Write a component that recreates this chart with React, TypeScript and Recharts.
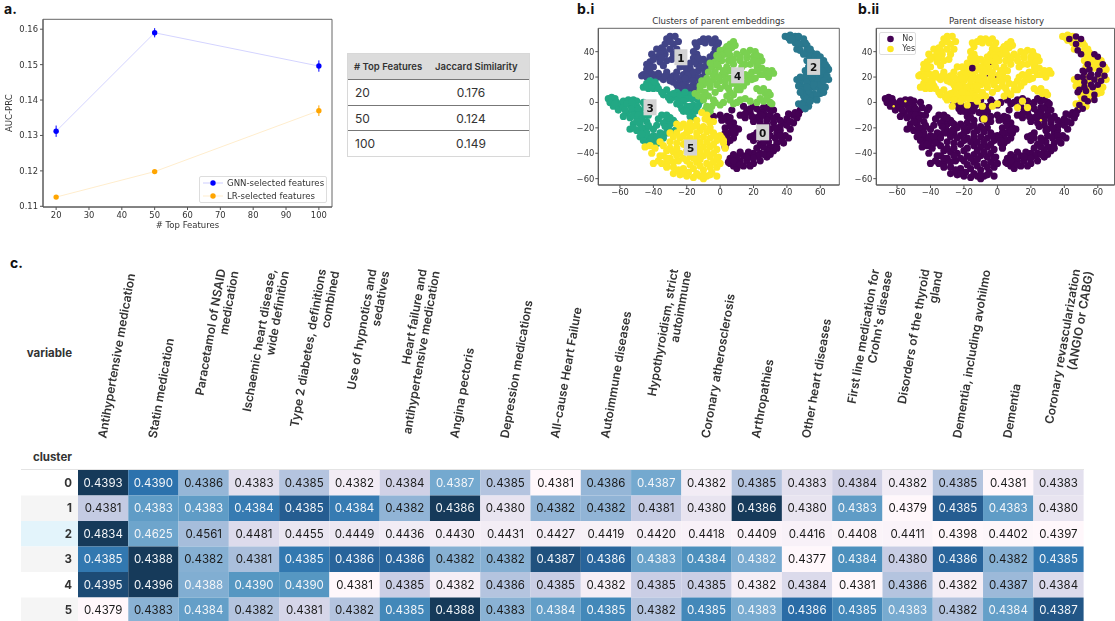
import React from "react";
import {
  LineChart, Line, ErrorBar, XAxis, YAxis, ScatterChart, Scatter, ReferenceArea, Legend,
} from "recharts";

// ---------- panel a ----------
const topFeatures = [20, 50, 100];
const gnnScores = [0.1312, 0.159, 0.1496];
const gnnErrors = [0.0016, 0.0013, 0.0016];
const lrScores = [0.1126, 0.1198, 0.137];
const lrErrors = [0.0003, 0.0003, 0.0015];
const jaccardRows = [["20", "0.176"], ["50", "0.124"], ["100", "0.149"]];

// ---------- panel b ----------
const cluster0 = [[-4,-11],[0,-10],[4,-11],[8,-16],[11,-21],[8,-28],[4,-32],[3,-35],[6,-24],[3,-20],[7,-6],[1,-14],[5,-15],[9,-24],[6,-30],[12,-10],[14,-3],[20,-3],[30,-2],[32,-6],[28,-11],[32,-16],[38,-16],[44,-10],[48,-6],[42,-21],[34,-24],[34,-32],[30,-35],[24,-40],[18,-43],[10,-43],[6,-48],[14,-50],[20,-48],[28,-43],[38,-32],[18,-8],[24,-8],[26,-4],[16,-6],[22,-12],[20,-15],[24,-16],[28,-18],[22,-24],[26,-28],[30,-26],[20,-30],[24,-33],[36,-22],[40,-18],[44,-16],[46,-12],[39,-26],[41,-28],[12,-46],[16,-46],[24,-46],[8,-50],[10,-52],[6,-44],[14,-42],[32,-38],[28,-38],[20,-40],[30,-10],[34,-11],[36,-19],[30,-21],[26,-35],[15,-12],[28,-30],[18,-27],[37,-28],[10,-48],[33,-28],[2,-13],[6,-12],[6,-19],[9,-20],[8,-22],[4,-28],[3,-24],[15,-9],[18,-5],[22,-5],[26,-8],[30,-6],[28,-4],[24,-12],[28,-14],[25,-19],[29,-22],[33,-20],[36,-14],[40,-13],[42,-15],[41,-9],[45,-8],[47,-9],[32,-13],[36,-26],[33,-35],[29,-31],[26,-31],[22,-28],[20,-26],[22,-36],[17,-39],[12,-39],[8,-41],[5,-47],[8,-46],[12,-49],[18,-50],[23,-42],[26,-41],[30,-41],[20,-44],[16,-43],[34,-36],[37,-30],[25,-10],[19,-11]];
const cluster1 = [[-32,50],[-30,52],[-27,52],[-33,46],[-28,46],[-25,48],[-30,42],[-26,42],[-33,38],[-38,42],[-41,38],[-38,36],[-42,32],[-36,32],[-32,33],[-44,26],[-42,24],[-46,22],[-40,22],[-47,21],[-36,20],[-14,44],[-12,48],[-7,50],[-3,50],[-1,47],[-3,42],[-6,36],[-10,34],[-14,38],[-16,40],[-16,35],[-14,30],[-8,31],[-13,25],[-10,28],[-14,20],[-12,16],[-16,14],[-20,12],[-18,8],[-22,10],[-26,14],[-24,18],[-28,16],[-22,22],[-26,24],[-20,25],[-17,20],[-18,27],[-24,28],[-30,20],[-32,24],[-34,18],[-10,50],[-5,47],[-12,33],[-28,21],[-20,17],[-15,9],[-30,48],[-35,43],[-34,41],[-28,38],[-36,38],[-29,34],[-40,34],[-35,35],[-40,28],[-44,30],[-42,28],[-43,22],[-39,19],[-44,20],[-33,21],[-30,17],[-26,20],[-22,14],[-18,12],[-19,22],[-21,19],[-16,17],[-23,13],[-13,13],[-11,20],[-16,24],[-12,28],[-9,24],[-7,27],[-7,32],[-5,34],[-18,31],[-15,32],[-21,28],[-25,11],[-20,8],[-13,35],[-15,47],[-9,47],[-2,44],[-4,38],[-34,29],[-37,23]];
const cluster2Yes = [[39,52],[42,53],[45,52],[42,49],[46,49],[49,46],[52,45],[46,42],[52,41],[55,39],[54,36],[56,33],[62,33],[65,26],[60,31],[65,18],[62,26],[59,28],[48,15],[53,20],[46,18],[50,12],[60,10],[63,12],[54,12],[56,7],[60,7],[51,7],[56,3],[47,-1],[50,-3],[53,-3],[58,27],[57,30],[52,33],[41,51],[44,50],[51,47],[53,38],[57,36],[64,28],[61,19],[49,18],[47,13],[55,16],[54,5],[50,0],[53,28],[60,18],[62,8],[50,5],[63,22],[54,42],[45,47],[60,33]];
const cluster2No = [[43,50],[47,52],[50,50],[47,46],[48,41],[50,38],[58,38],[60,36],[63,30],[54,30],[52,24],[51,20],[56,22],[60,22],[64,21],[58,18],[52,16],[57,12],[53,9],[60,14],[58,6],[52,3],[49,-2],[54,1],[51,-5],[48,20],[62,17],[55,26],[61,25],[56,14],[49,10],[58,2],[48,8],[52,12],[51,25],[55,20]];
const cluster3Upper = [[-46,12],[-44,15],[-42,17],[-40,15],[-38,13],[-43,11],[-40,11],[-37,11],[-32,10],[-34,6],[-30,6],[-28,4],[-25,3],[-30,2],[-22,6],[-18,6],[-26,8],[-14,3],[-20,3],[-12,1],[-35,8],[-31,4],[-28,7],[-24,6],[-21,8],[-17,3],[-44,13],[-41,13],[-39,16],[-22,1]];
const cluster3Lower = [[-67,3],[-65,4],[-63,3],[-66,0],[-62,0],[-64,-3],[-60,-2],[-61,-6],[-58,-4],[-58,1],[-55,2],[-52,2],[-50,1],[-54,-2],[-50,-3],[-46,0],[-56,-8],[-52,-7],[-48,-7],[-58,-11],[-54,-12],[-50,-12],[-46,-10],[-43,-10],[-52,-17],[-48,-17],[-44,-15],[-54,-21],[-50,-22],[-46,-22],[-48,-27],[-44,-27],[-40,-26],[-46,-30],[-42,-30],[-38,-30],[-44,-33],[-40,-31],[-36,-29],[-36,-24],[-40,-21],[-35,-10],[-37,-13],[-32,-14],[-30,-17],[-34,-16],[-28,-14],[-32,-10],[-31,-21],[-34,-25],[-32,-24],[-24,-2],[-20,-3],[-23,-5],[-16,-5],[-16,-2],[-22,-7],[-18,-7],[-15,-7],[-18,-11],[-16,-12],[-27,-22],[-42,-6],[-44,-20],[-38,-18],[-63,-1],[-56,-1],[-53,0],[-57,-6],[-53,-5],[-49,-5],[-52,-10],[-49,-10],[-47,-13],[-50,-15],[-47,-20],[-52,-20],[-43,-18],[-44,-24],[-47,-25],[-41,-28],[-38,-27],[-34,-28],[-42,-33],[-37,-32],[-31,-19],[-30,-12],[-33,-19],[-27,-16],[-41,-4],[-45,-4],[-26,-1],[-18,-3],[-14,-5],[-20,-7],[-13,-2]];
const cluster4Upper = [[6,46],[8,48],[7,43],[3,42],[0,41],[-2,37],[3,38],[6,37],[10,38],[14,40],[18,41],[21,40],[24,36],[25,33],[20,36],[16,35],[12,33],[5,33],[1,33],[-3,32],[-5,28],[-1,28],[4,28],[8,30],[13,28],[18,30],[22,29],[25,27],[28,25],[31,25],[32,23],[29,20],[24,22],[19,24],[15,22],[3,22],[-3,24],[-7,24],[-8,19],[-4,18],[0,17],[-2,14],[-10,14],[-12,10],[-15,7],[-9,8],[-6,12],[-3,8],[3,13],[7,15],[12,17],[17,19],[14,13],[10,10],[6,8],[4,5],[22,11],[24,9],[27,7],[26,11],[29,8],[30,6],[1,22],[21,19],[4,44],[9,45],[5,40],[1,37],[-1,35],[8,34],[12,36],[16,38],[22,37],[20,33],[23,32],[15,30],[6,25],[2,25],[-2,30],[-6,31],[-4,21],[-8,16],[-11,17],[-12,13],[-6,15],[-1,20],[3,17],[6,19],[10,14],[13,20],[18,22],[22,25],[26,22],[29,23],[16,16],[12,10],[8,6],[0,11],[-7,5],[-10,5],[-13,5],[5,11],[19,18]];
const cluster4Lower = [[-8,-3],[-9,-6],[-6,-7],[-5,-3],[-3,0],[0,-2],[-10,2],[2,0],[6,2],[12,2],[18,1],[22,0],[26,1],[30,0],[31,-1],[-4,2],[8,-1],[15,3],[24,3],[10,0],[28,3]];
const cluster5 = [[-11,-8],[-8,-10],[-4,-15],[-14,-14],[-22,-17],[-26,-17],[-30,-24],[-36,-31],[-45,-35],[-41,-40],[-40,-48],[-32,-48],[-28,-56],[-20,-58],[-10,-60],[-2,-51],[-1,-43],[2,-32],[-4,-24],[-10,-19],[-18,-22],[-26,-24],[-22,-26],[-18,-28],[-14,-27],[-10,-27],[-6,-28],[-2,-30],[-30,-31],[-26,-32],[-22,-33],[-14,-34],[-10,-35],[-6,-35],[-2,-37],[-32,-38],[-28,-39],[-24,-40],[-14,-41],[-10,-42],[-6,-43],[-36,-42],[-30,-44],[-25,-46],[-20,-46],[-14,-47],[-8,-48],[-4,-47],[-28,-51],[-22,-52],[-16,-52],[-10,-53],[-5,-55],[-24,-57],[-16,-59],[-14,-56],[-8,-58],[-35,-48],[0,-26],[3,-36],[-42,-34],[-39,-36],[-12,-22],[-6,-20],[-14,-18],[-18,-16],[-20,-38],[-18,-42],[-2,-58],[-9,-13],[-7,-14],[-6,-16],[-16,-19],[-20,-20],[-24,-20],[-8,-23],[-14,-24],[-20,-24],[-24,-28],[-28,-27],[-16,-31],[-12,-31],[-8,-31],[-4,-33],[-20,-30],[-34,-34],[-30,-36],[-26,-36],[-18,-36],[-12,-38],[-8,-39],[-4,-40],[-34,-42],[-26,-42],[-22,-44],[-16,-44],[-12,-45],[-2,-44],[-37,-46],[-32,-44],[-28,-47],[-18,-49],[-12,-50],[-6,-51],[-32,-51],[-25,-53],[-19,-55],[-12,-58],[-6,-57],[-10,-57],[-22,-56],[0,-48],[1,-28],[2,-30],[-3,-26]];
const mixedYes = [[-26,2],[-27,-3],[-18,-2],[-9,-3],[-3,-3],[0,-1],[12,-4],[18,-4],[15,1],[-8,-13]];
const darkDots = [[-15,27]];
const yesSpecks = [[-55,1],[-62,-3],[26,-14]];
const noSpecks = [[-6,21],[-1,20],[-4,30]];
const clusterLabels = [
  { x: 25.5, y: -23.5, name: "0" }, { x: -23.5, y: 35.6, name: "1" }, { x: 56, y: 28, name: "2" },
  { x: -42, y: -3.8, name: "3" }, { x: 10.5, y: 21.4, name: "4" }, { x: -17.7, y: -35.5, name: "5" },
];
const scatterTicksX = [-60, -40, -20, 0, 20, 40, 60];
const scatterTicksY = [-60, -40, -20, 0, 20, 40];
const clusterColors = ["#440154", "#414487", "#2a788e", "#22a884", "#7ad151", "#fde725"];

// ---------- panel c ----------
const headerLines = [
  ["Antihypertensive medication"], ["Statin medication"], ["Paracetamol of NSAID", "medication"],
  ["Ischaemic heart disease,", "wide definition"], ["Type 2 diabetes, definitions", "combined"],
  ["Use of hypnotics and", "sedatives"], ["Heart failure and", "antihypertensive medication"],
  ["Angina pectoris"], ["Depression medications"], ["All-cause Heart Failure"], ["Autoimmune diseases"],
  ["Hypothyroidism, strict", "autoimmune"], ["Coronary atherosclerosis"], ["Arthropathies"], ["Other heart diseases"],
  ["First line medication for", "Crohn's disease"], ["Disorders of the thyroid", "gland"],
  ["Dementia, including avohilmo"], ["Dementia"], ["Coronary revascularization", "(ANGIO or CABG)"],
];
const row0 = [.4393,.4390,.4386,.4383,.4385,.4382,.4384,.4387,.4385,.4381,.4386,.4387,.4382,.4385,.4383,.4384,.4382,.4385,.4381,.4383];
const row1 = [.4381,.4383,.4383,.4384,.4385,.4384,.4382,.4386,.4380,.4382,.4382,.4381,.4380,.4386,.4380,.4383,.4379,.4385,.4383,.4380];
const row2 = [.4834,.4625,.4561,.4481,.4455,.4449,.4436,.4430,.4431,.4427,.4419,.4420,.4418,.4409,.4416,.4408,.4411,.4398,.4402,.4397];
const row3 = [.4385,.4388,.4382,.4381,.4385,.4386,.4386,.4382,.4382,.4387,.4386,.4383,.4384,.43824,.4377,.4384,.4380,.4386,.4382,.4385];
const row4 = [.4395,.4396,.4388,.4390,.4390,.4381,.4385,.4382,.4386,.4385,.4382,.4385,.4385,.4382,.4384,.4381,.4386,.4382,.4387,.4384];
const row5 = [.4379,.4383,.4384,.4382,.4381,.4382,.4385,.4388,.4383,.4384,.4385,.4382,.4385,.43834,.4386,.4385,.43834,.4382,.4384,.4387];
const heatRows = [row0, row1, row2, row3, row4, row5];
const rowBackgrounds = ["#ffffff", "#f5f5f5", "#e3f4fb", "#f5f5f5", "#ffffff", "#f5f5f5"];
const gradient = ["#fff7fb", "#ece7f2", "#d0d1e6", "#a6bddb", "#74a9cf", "#4f93bf", "#2c72ad", "#24598c", "#163a5a"];

const MPL = "'DejaVu Sans'";
const INTER = "Inter";
const toPts = (a: number[][]) => a.map(([x, y]) => ({ x, y }));
const minus = (v: number) => String(v).replace("-", "\u2212");
const hexToRgb = (h: string) => [1, 3, 5].map((i) => parseInt(h.slice(i, i + 2), 16));
const colorAt = (t: number) => {
  const p = Math.max(0, Math.min(1, t)) * (gradient.length - 1);
  const i = Math.min(gradient.length - 2, Math.floor(p));
  const a = hexToRgb(gradient[i]), b = hexToRgb(gradient[i + 1]);
  const f = p - i;
  return `rgb(${a.map((c, k) => Math.round(c + (b[k] - c) * f)).join(",")})`;
};

const CELL_W = 50.28;
const CELL_H = 25.5;
const heatData = heatRows.flatMap((row, r) => {
  const lo = Math.min(...row), hi = Math.max(...row);
  return row.map((v, c) => ({ col: c + 0.5, row: r + 0.5, value: v, t: (v - lo) / (hi - lo) }));
});

const lineData = topFeatures.map((f, i) => ({
  f, gnn: gnnScores[i], gnnErr: gnnErrors[i], lr: lrScores[i], lrErr: lrErrors[i],
}));

const dot = (r: number) => (p: any) => <circle cx={p.cx} cy={p.cy} r={r} fill={p.fill} />;
const blob = dot(3.6);

const axisTick = { fontFamily: MPL, fontSize: 8.4, fill: "#333" };
const frameStroke = "#666";

const LineLegend = () => (
  <div style={{ boxSizing: "border-box", width: 128, height: 27, border: "1px solid #ddd", borderRadius: 2, background: "rgba(255,255,255,.8)", fontFamily: MPL, fontSize: 8.6, color: "#333", position: "relative" }}>
    {[["GNN-selected features", "#0000ff"], ["LR-selected features", "#ffa500"]].map(([t, c], i) => (
      <div key={t} style={{ position: "absolute", left: 0, top: 0.5 + i * 12.4, height: 12, lineHeight: "12px", whiteSpace: "nowrap" }}>
        <svg width={27} height={12} style={{ position: "absolute", left: 3, top: 0 }}>
          <line x1={0} x2={20} y1={6} y2={6} stroke={c} strokeOpacity={0.25} strokeWidth={0.8} />
          <circle cx={10} cy={6} r={2.7} fill={c} />
        </svg>
        <span style={{ position: "absolute", left: 27 }}>{t}</span>
      </div>
    ))}
  </div>
);

const HistoryLegend = () => (
  <div style={{ boxSizing: "border-box", width: 37, height: 23.5, border: "1px solid #ddd", borderRadius: 2, background: "#fff", fontFamily: MPL, fontSize: 8, color: "#333", position: "relative" }}>
    {[["No", clusterColors[0]], ["Yes", clusterColors[5]]].map(([t, c], i) => (
      <div key={t} style={{ position: "absolute", left: 0, top: 1 + i * 10.4, height: 10, lineHeight: "10px" }}>
        <svg width={10} height={10} style={{ position: "absolute", left: 6, top: 0 }}>
          <circle cx={4.5} cy={5} r={3.3} fill={c} />
        </svg>
        <span style={{ position: "absolute", left: 22 }}>{t}</span>
      </div>
    ))}
  </div>
);

const LabelBox = (p: any) => (
  <g>
    <rect x={p.cx - 6.5} y={p.cy - 8} width={13} height={16} fill="#d3d3d3" />
    <text x={p.cx} y={p.cy + 0.5} textAnchor="middle" dominantBaseline="central" fontFamily={MPL} fontWeight={700} fontSize={10.5} fill="#111">{p.payload.name}</text>
  </g>
);

const HeaderTick = (p: any) => {
  const idx = Math.floor(p.payload.value);
  const lines = headerLines[idx];
  const x = p.x;
  const common = { fontFamily: INTER, fontWeight: 600, fontSize: 12, fill: "#333", dominantBaseline: "central" as const };
  if (lines.length === 1) {
    return <text {...common} transform={`translate(${x - 1.4},183) rotate(-80)`} textAnchor="start">{lines[0]}</text>;
  }
  return (
    <g>
      <text {...common} transform={`translate(${x + 17.5},14) rotate(-80)`} textAnchor="end">{lines[0]}</text>
      <text {...common} transform={`translate(${x + 30.5},16) rotate(-80)`} textAnchor="end">{lines[1]}</text>
    </g>
  );
};

const RowTick = (p: any) => {
  const r = Math.floor(p.payload.value);
  return (
    <g>
      <rect x={21} y={p.y - CELL_H / 2} width={57} height={CELL_H} fill={rowBackgrounds[r]} />
      <text x={72} y={p.y} textAnchor="end" dominantBaseline="central" fontFamily={INTER} fontWeight={700} fontSize={11.5} fill="#333">{r}</text>
    </g>
  );
};

const HeatCell = (p: any) => {
  const { value, t } = p.payload;
  return (
    <g>
      <rect x={p.cx - CELL_W / 2} y={p.cy - CELL_H / 2} width={CELL_W} height={CELL_H} fill={colorAt(t)} />
      <text x={p.cx} y={p.cy} textAnchor="middle" dominantBaseline="central" fontFamily={INTER} fontSize={11.5} fill={t > 0.46 ? "#f4f6f9" : "#1a1a1a"}>{value.toFixed(4)}</text>
    </g>
  );
};

const panelLabel = (text: string, left: number, top: number) => (
  <div style={{ position: "absolute", left, top, fontFamily: INTER, fontWeight: 700, fontSize: 14, lineHeight: "16px", color: "#111" }}>{text}</div>
);
const title = (text: string, center: number) => (
  <div style={{ position: "absolute", left: center - 100, width: 200, top: 16, textAlign: "center", fontFamily: MPL, fontSize: 8.6, lineHeight: "10px", color: "#333" }}>{text}</div>
);

const ScatterFrame = (d: number[]) => (
  <ReferenceArea x1={d[0]} x2={d[1]} y1={d[2]} y2={d[3]} fill="none" stroke={frameStroke} strokeWidth={1} ifOverflow="visible" />
);

export default function App() {
  const soft = "blur(0.45px)";
  return (
    <div style={{ position: "absolute", left: 0, top: 0, width: 1115, height: 621, overflow: "hidden", background: "#fff" }}>
      {panelLabel("a.", 4, 1)}
      {panelLabel("b.i", 577, 1)}
      {panelLabel("b.ii", 858, 1)}
      {panelLabel("c.", 10, 255)}

      <div style={{ position: "absolute", left: 0, top: 0, filter: soft }}>
        <LineChart width={345} height={240} data={lineData} margin={{ top: 19.3, right: 13, bottom: 18, left: 0 }}>
          <XAxis dataKey="f" type="number" domain={[16, 104]} ticks={[20, 30, 40, 50, 60, 70, 80, 90, 100]} interval={0}
            tick={axisTick} tickSize={3} tickMargin={2} height={15} stroke="#555"
            label={{ value: "# Top Features", position: "bottom", offset: 0, style: { fontFamily: MPL, fontSize: 8.5, fill: "#333" } }} />
          <YAxis domain={[0.1098, 0.1628]} ticks={[0.11, 0.12, 0.13, 0.14, 0.15, 0.16]} interval={0} tickFormatter={(v: number) => v.toFixed(2)}
            tick={axisTick} tickSize={3} tickMargin={2} width={43} stroke="#555"
            label={{ value: "AUC-PRC", angle: -90, position: "insideLeft", offset: 9, style: { fontFamily: MPL, fontSize: 8.5, fill: "#333", textAnchor: "middle" } }} />
          {ScatterFrame([16, 104, 0.1098, 0.1628])}
          <Line dataKey="gnn" stroke="#0000ff" strokeOpacity={0.22} strokeWidth={0.8} isAnimationActive={false} dot={{ r: 2.7, fill: "#0000ff", stroke: "none" }} legendType="none">
            <ErrorBar dataKey="gnnErr" width={0} stroke="#0000ff" strokeWidth={1} direction="y" isAnimationActive={false} />
          </Line>
          <Line dataKey="lr" stroke="#ffa500" strokeOpacity={0.25} strokeWidth={0.8} isAnimationActive={false} dot={{ r: 2.7, fill: "#ffa500", stroke: "none" }} legendType="none">
            <ErrorBar dataKey="lrErr" width={0} stroke="#ffa500" strokeWidth={1} direction="y" isAnimationActive={false} />
          </Line>
          <Legend layout="horizontal" align="center" verticalAlign="middle" content={<LineLegend />} wrapperStyle={{ left: 199, top: 175.7, width: 128, height: 27 }} />
        </LineChart>
      </div>

      <div style={{ position: "absolute", left: 347, top: 53, width: 182.5, height: 104, boxSizing: "border-box", border: "1px solid #d8d8d8", fontFamily: INTER, color: "#333" }}>
        <div style={{ height: 26, boxSizing: "border-box", background: "#dcdcdc", borderBottom: "1px solid #777", position: "relative", fontWeight: 600, fontSize: 9.5, lineHeight: "25px" }}>
          <span style={{ position: "absolute", left: 6 }}># Top Features</span>
          <span style={{ position: "absolute", left: 87 }}>Jaccard Similarity</span>
        </div>
        {jaccardRows.map(([n, j], i) => (
          <div key={n} style={{ height: 25.7, boxSizing: "border-box", borderBottom: i < 2 ? "1px solid #777" : "none", position: "relative", fontSize: 12, lineHeight: "25px" }}>
            <span style={{ position: "absolute", left: 7 }}>{n}</span>
            <span style={{ position: "absolute", left: 88, width: 70, textAlign: "center" }}>{j}</span>
          </div>
        ))}
      </div>

      {title("Clusters of parent embeddings", 718.5)}
      <div style={{ position: "absolute", left: 570, top: 0, filter: soft }}>
        <ScatterChart width={280} height={200} margin={{ top: 28.3, right: 10.7, bottom: 0, left: 0 }}>
          <XAxis dataKey="x" type="number" domain={[-73, 71.4]} ticks={scatterTicksX} interval={0} tickFormatter={minus} tick={axisTick} tickSize={3} tickMargin={1} height={15} stroke="#555" />
          <YAxis dataKey="y" type="number" domain={[-65, 58.4]} ticks={scatterTicksY} interval={0} tickFormatter={minus} tick={axisTick} tickSize={3} tickMargin={1} width={28.3} stroke="#555" />
          {ScatterFrame([-73, 71.4, -65, 58.4])}
          <Scatter data={toPts(cluster0)} fill={clusterColors[0]} shape={blob} isAnimationActive={false} />
          <Scatter data={toPts(cluster1)} fill={clusterColors[1]} shape={blob} isAnimationActive={false} />
          <Scatter data={toPts([...cluster2Yes, ...cluster2No])} fill={clusterColors[2]} shape={blob} isAnimationActive={false} />
          <Scatter data={toPts([...cluster3Upper, ...cluster3Lower])} fill={clusterColors[3]} shape={blob} isAnimationActive={false} />
          <Scatter data={toPts([...cluster4Upper, ...cluster4Lower])} fill={clusterColors[4]} shape={blob} isAnimationActive={false} />
          <Scatter data={toPts(cluster5)} fill={clusterColors[5]} shape={blob} isAnimationActive={false} />
          <Scatter data={clusterLabels} shape={LabelBox} isAnimationActive={false} />
        </ScatterChart>
      </div>

      {title("Parent disease history", 996.5)}
      <div style={{ position: "absolute", left: 850, top: 0, filter: soft }}>
        <ScatterChart width={265} height={200} margin={{ top: 28.3, right: 0.5, bottom: 0, left: 0 }}>
          <XAxis dataKey="x" type="number" domain={[-72.4, 70]} ticks={scatterTicksX} interval={0} tickFormatter={minus} tick={axisTick} tickSize={3} tickMargin={1} height={15} stroke="#555" />
          <YAxis dataKey="y" type="number" domain={[-65, 58.4]} ticks={scatterTicksY} interval={0} tickFormatter={minus} tick={axisTick} tickSize={3} tickMargin={1} width={26.3} stroke="#555" />
          {ScatterFrame([-72.4, 70, -65, 58.4])}
          <Scatter data={toPts([...cluster0, ...cluster5, ...cluster3Lower, ...cluster4Lower])} fill={clusterColors[0]} shape={blob} isAnimationActive={false} />
          <Scatter data={toPts([...cluster1, ...cluster4Upper, ...cluster3Upper, ...mixedYes, ...cluster2Yes])} fill={clusterColors[5]} shape={blob} isAnimationActive={false} />
          <Scatter data={toPts([...cluster2No, ...darkDots])} fill={clusterColors[0]} shape={dot(3.3)} isAnimationActive={false} />
          <Scatter data={toPts(noSpecks)} fill={clusterColors[0]} shape={dot(0.7)} isAnimationActive={false} />
          <Scatter data={toPts(yesSpecks)} fill={clusterColors[5]} shape={dot(1.2)} isAnimationActive={false} />
          <Legend layout="horizontal" align="center" verticalAlign="middle" content={<HistoryLegend />} wrapperStyle={{ left: 29.3, top: 31.7, width: 37, height: 24 }} />
        </ScatterChart>
      </div>

      <div style={{ position: "absolute", left: 10, width: 62, top: 345, textAlign: "right", fontFamily: INTER, fontWeight: 700, fontSize: 11.5, lineHeight: "16px", color: "#333" }}>variable</div>
      <div style={{ position: "absolute", left: 10, width: 62, top: 449, textAlign: "right", fontFamily: INTER, fontWeight: 700, fontSize: 11.5, lineHeight: "16px", color: "#333" }}>cluster</div>
      <div style={{ position: "absolute", left: 0, top: 255, filter: "blur(0.3px)" }}>
        <ScatterChart width={1115} height={370} margin={{ top: 0, right: 31.4, bottom: 2, left: 0 }}>
          <XAxis dataKey="col" type="number" orientation="top" domain={[0, 20]} ticks={headerLines.map((_, i) => i + 0.5)} interval={0} tick={HeaderTick} tickLine={false} axisLine={false} height={215} />
          <YAxis dataKey="row" type="number" reversed domain={[0, 6]} ticks={rowBackgrounds.map((_, i) => i + 0.5)} interval={0} tick={RowTick} tickLine={false} axisLine={false} width={78} />
          <Scatter data={heatData} shape={HeatCell} isAnimationActive={false} />
        </ScatterChart>
      </div>
      <div style={{ position: "absolute", left: 21, width: 1062.6, top: 469, height: 1, background: "#e4e4e4" }} />
    </div>
  );
}
